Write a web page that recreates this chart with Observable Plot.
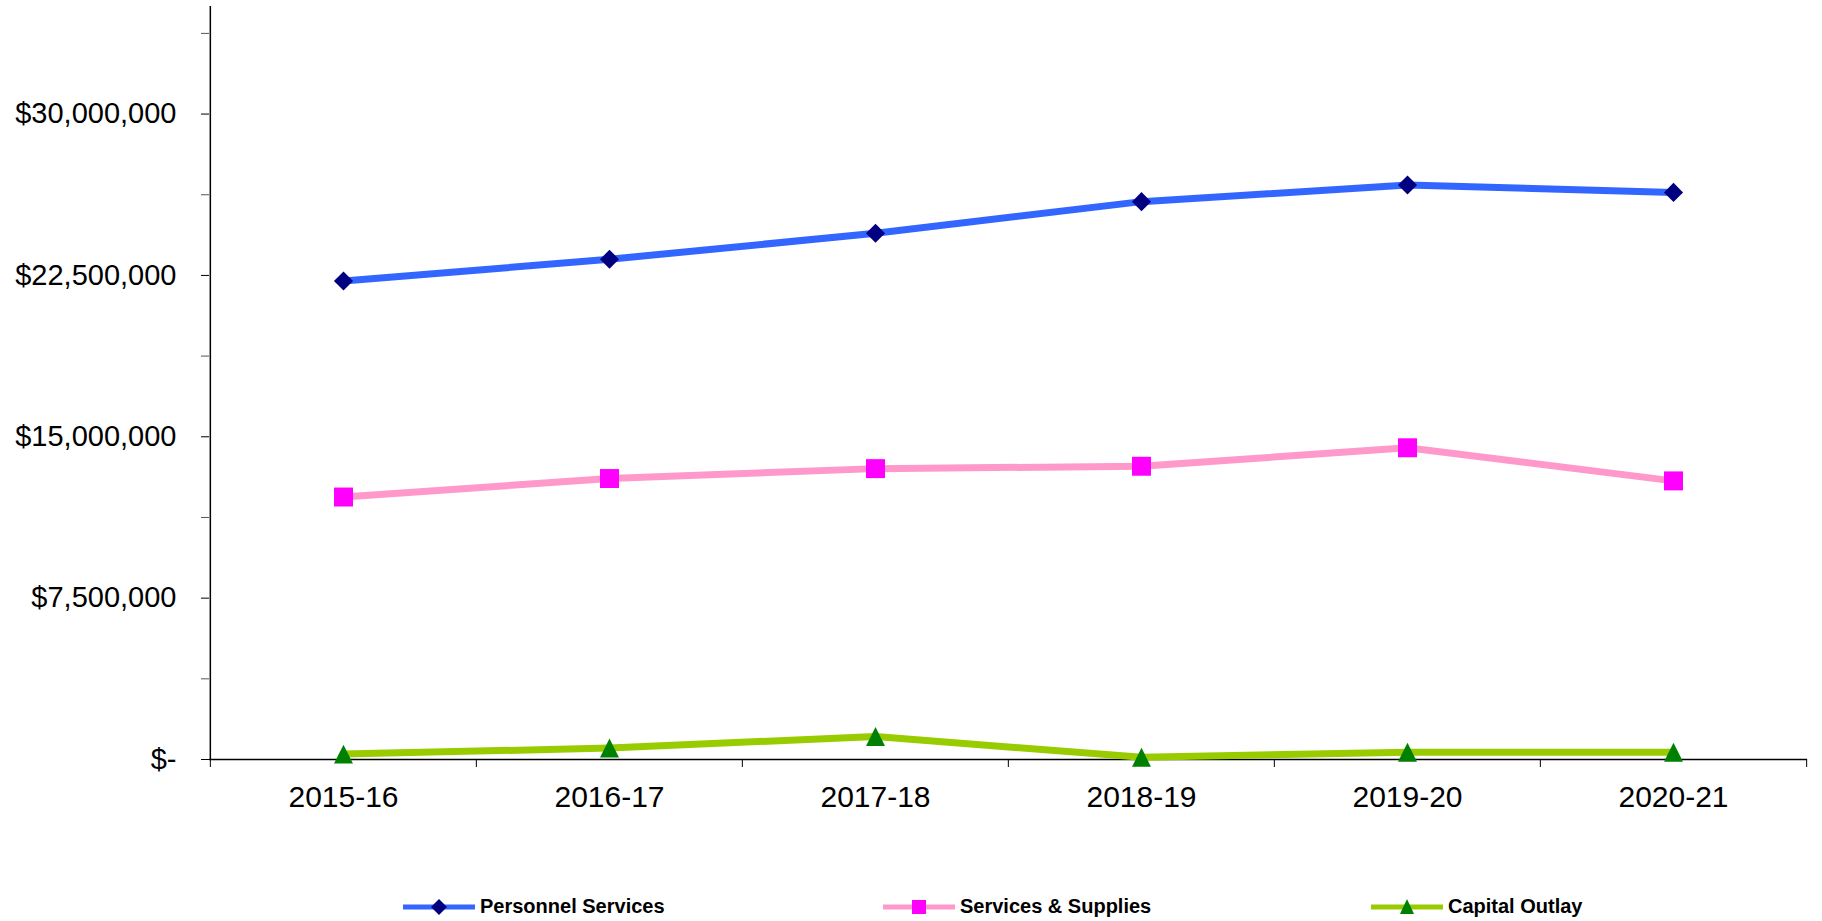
<!DOCTYPE html>
<html>
<head>
<meta charset="utf-8">
<script src="https://cdn.jsdelivr.net/npm/d3@7"></script>
<script src="https://cdn.jsdelivr.net/npm/@observablehq/plot@0.6"></script>
<style>
  html, body { margin: 0; padding: 0; background: #fff; }
  body { font-family: "Liberation Sans", Arial, sans-serif; width: 1822px; }
  #legend { position: relative; width: 1822px; height: 81px; }
  .item { position: absolute; top: 55px; display: flex; align-items: center; font-weight: bold; font-size: 20px; color: #000; }
  .item svg { display: block; margin-right: 5px; }
</style>
</head>
<body>
<div id="chart"></div>
<div id="legend"></div>
<script>
const years = ["2015-16", "2016-17", "2017-18", "2018-19", "2019-20", "2020-21"];
const personnel = [22240000, 23250000, 24460000, 25930000, 26700000, 26360000];
const services = [12200000, 13060000, 13520000, 13630000, 14490000, 12950000];
const capital = [250000, 530000, 1070000, 100000, 340000, 340000];

const seriesNames = ["Personnel Services", "Services & Supplies", "Capital Outlay"];
const lineColors = ["#3366FF", "#FF99CC", "#99CC00"];
const markerColors = ["#000080", "#FF00FF", "#008000"];

const majorTicks = [0, 7500000, 15000000, 22500000, 30000000];
const minorTicks = [3750000, 11250000, 18750000, 26250000, 33750000];

// Excel-like triangle: equal width and height
const triangleSym = {
  draw(ctx, size) {
    const h = Math.sqrt(size) / 2;
    ctx.moveTo(0, -h);
    ctx.lineTo(h, h);
    ctx.lineTo(-h, h);
    ctx.closePath();
  }
};
const markerSymbols = ["diamond2", "square", triangleSym];
const markerR = [8.6, 10.7, 10.7];

const seriesValues = [personnel, services, capital];
const table = seriesValues.map((vals, i) => years.map((y, j) => ({year: y, value: vals[j], series: seriesNames[i]})));

const W = 1822, H = 840, ML = 209, MR = 15, MT = 6, MB = 81;
const step = (W - ML - MR) / years.length;

const fmt = d => d === 0 ? "$-" : "$" + d3.format(",")(d);

const marks = [
  Plot.axisY({ticks: majorTicks, tickFormat: fmt, tickSize: 8, tickPadding: 25, fontSize: 29, stroke: "#000", label: null}),
  Plot.axisY({ticks: minorTicks, tickFormat: () => "", tickSize: 8, stroke: "#555", label: null}),
  Plot.axisX({tickSize: 0, tickPadding: 26, fontSize: 30, label: null}),
  // x axis line and category boundary ticks
  Plot.ruleY([0], {stroke: "#000", strokeWidth: 1.5}),
  Plot.ruleX(years, {x: d => d, y1: 0, y2: 0, dx: -step / 2, insetBottom: -8, stroke: "#000"}),
  Plot.ruleX([years[years.length - 1]], {x: d => d, y1: 0, y2: 0, dx: step / 2, insetBottom: -8, stroke: "#000"}),
  // y axis line
  Plot.ruleX([years[0]], {x: d => d, y1: 0, y2: 35000000, dx: -step / 2, stroke: "#000", strokeWidth: 1.5})
];

table.forEach((rows, i) => {
  marks.push(Plot.line(rows, {x: "year", y: "value", stroke: lineColors[i], strokeWidth: 7, strokeLinejoin: "round"}));
});
table.forEach((rows, i) => {
  marks.push(Plot.dot(rows, {x: "year", y: "value", symbol: () => markerSymbols[i], r: markerR[i], fill: markerColors[i], stroke: "none"}));
});

const chart = Plot.plot({
  width: W,
  height: H,
  marginLeft: ML,
  marginRight: MR,
  marginTop: MT,
  marginBottom: MB,
  style: {fontFamily: "'Liberation Sans', Arial, sans-serif", color: "#000", background: "#fff"},
  x: {type: "point", domain: years, padding: 0.5, axis: null},
  y: {domain: [0, 35000000], axis: null},
  symbol: {type: "identity"},
  marks
});
document.getElementById("chart").appendChild(chart);

// legend
const legend = document.getElementById("legend");
const lefts = [403, 883, 1371];
const shapes = [
  c => `<path d="M36,2 L44,10 L36,18 L28,10 Z" fill="${c}"/>`,
  c => `<rect x="29" y="3" width="14" height="14" fill="${c}"/>`,
  c => `<path d="M36,2 L43,17 L29,17 Z" fill="${c}"/>`
];
seriesNames.forEach((name, i) => {
  const div = document.createElement("div");
  div.className = "item";
  div.style.left = lefts[i] + "px";
  div.innerHTML = `<svg width="72" height="20" viewBox="0 0 72 20"><line x1="0" y1="10" x2="72" y2="10" stroke="${lineColors[i]}" stroke-width="5"/>${shapes[i](markerColors[i])}</svg><span>${name}</span>`;
  legend.appendChild(div);
});
</script>
</body>
</html>
